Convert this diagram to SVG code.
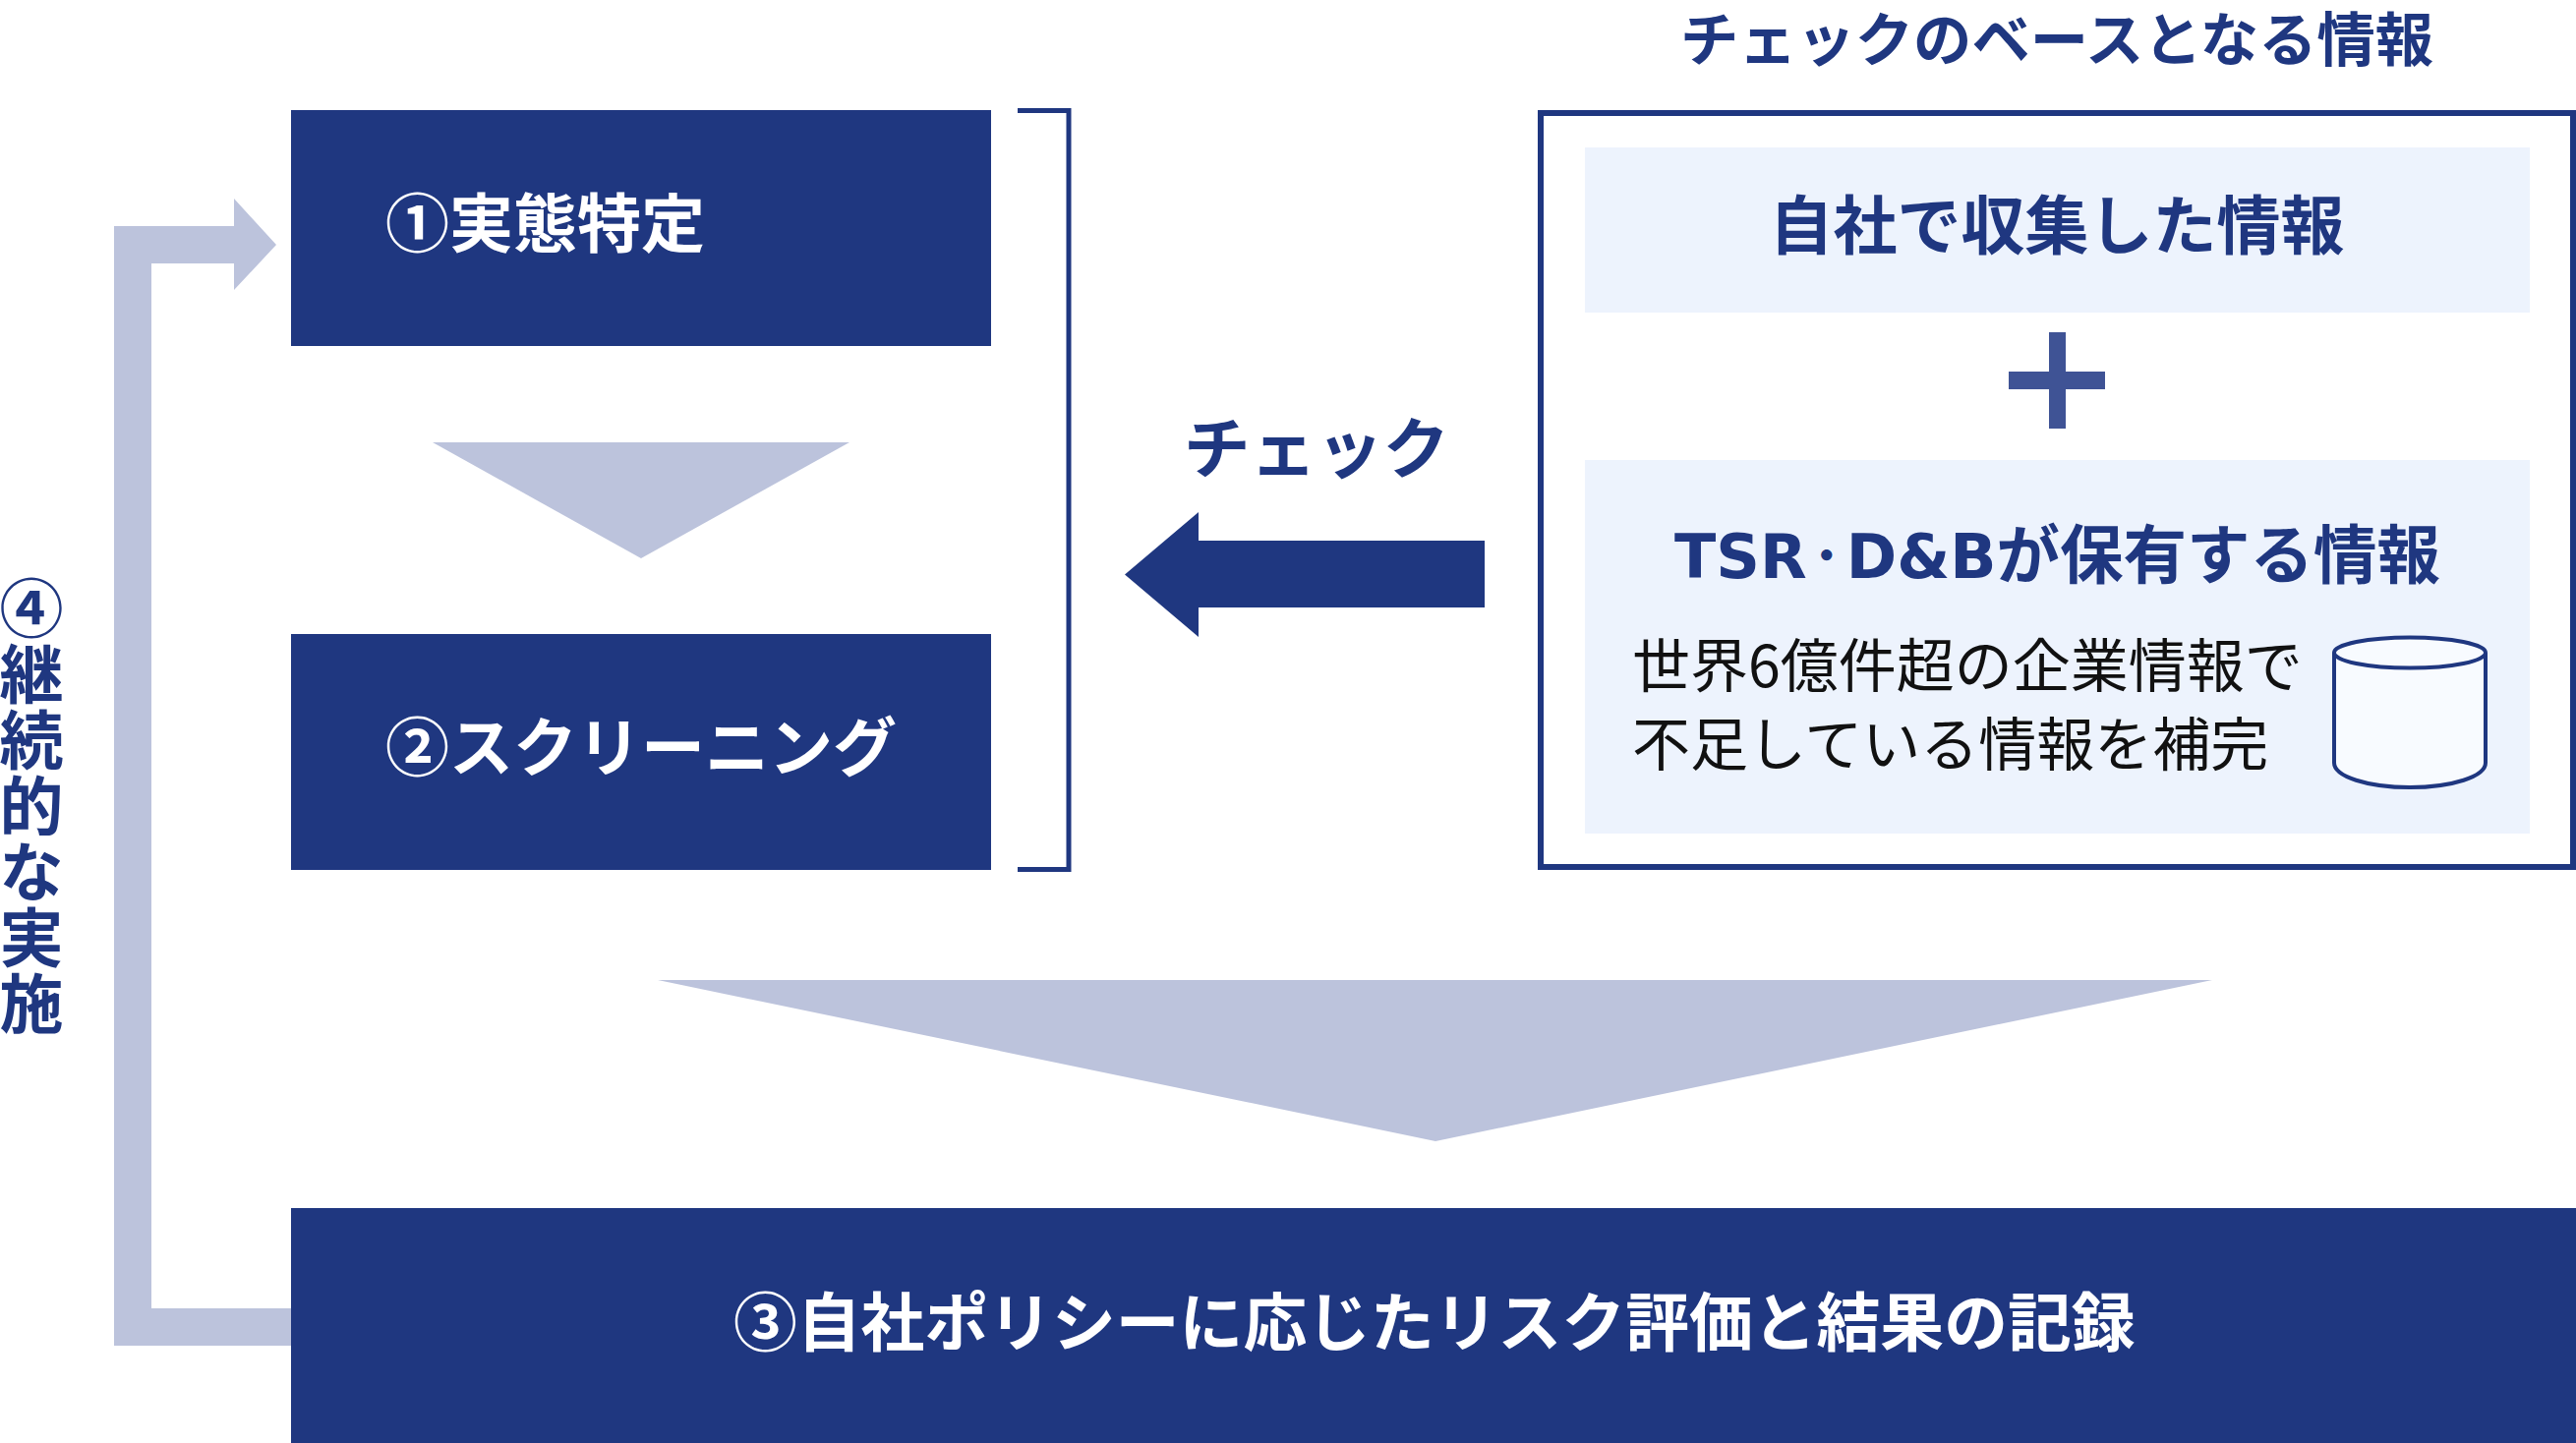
<svg xmlns="http://www.w3.org/2000/svg" width="2620" height="1468" viewBox="0 0 2620 1468">
<style>
text{font-family:"DejaVu Sans","Noto Sans CJK JP",sans-serif;font-weight:700;fill:#1f3780}
.w{fill:#fff}
.c{text-anchor:middle}
.r{font-weight:400;fill:#111;font-size:59px;font-family:"Noto Sans CJK JP",sans-serif}
.j{font-family:"Noto Sans CJK JP",sans-serif}
.box{fill:#1f3780}
.light{fill:#edf3fd}
.pale{fill:#bcc3dc}
</style>
<rect width="2620" height="1468" fill="#fff"/>
<g id="connectors">
<path class="pale" d="M296 1331H154V268H238V295L281 249L238 202V230H116V1369H296Z"/>
<path class="pale" d="M440 450H864L652 568Z"/>
<path class="pale" d="M669 997H2250L1460 1161Z"/>
<path d="M1035 112.500H1087V884.500H1035" fill="none" stroke="#1f3780" stroke-width="5"/>
<path class="box" d="M1510 550H1219V521L1144 584.500L1219 648V618H1510Z"/>
<text class="j c" x="1339" y="481" font-size="67.500">チェック</text>
</g>
<g id="node1"><rect class="box" x="296" y="112" width="712" height="240"/>
<text class="w j" x="392" y="251" font-size="65">①実態特定</text></g>
<g id="node2"><rect class="box" x="296" y="645" width="712" height="240"/>
<text class="w j" x="392" y="784" font-size="65">②スクリーニング</text></g>
<g id="node3"><rect class="box" x="296" y="1229" width="2324" height="239"/>
<text class="w j" x="746" y="1369" font-size="64.800">③自社ポリシーに応じたリスク評価と結果の記録</text></g>
<g id="node4"><text class="j c" x="32 32 32 32 32 32 32" y="643 710 777 844 911 978 1045" font-size="65">④継続的な実施</text></g>
<g id="info">
<text class="j c" x="2092" y="62" font-size="59.300">チェックのベースとなる情報</text>
<rect x="1567" y="115" width="1050" height="767" fill="#fff" stroke="#1f3780" stroke-width="6"/>
<rect class="light" x="1612" y="150" width="961" height="168"/>
<text class="j c" x="2092" y="253" font-size="65">自社で収集した情報</text>
<path fill="#3f5395" d="M2084 338H2101V378H2141V396H2101V436H2084V396H2043V378H2084Z"/>
<rect class="light" x="1612" y="468" width="961" height="380"/>
<text x="1703" y="588" font-size="62">TSR<tspan font-size="40" font-weight="900" dy="-8">・</tspan><tspan dy="8">D&amp;B</tspan><tspan class="j" font-size="64.500">が保有する情報</tspan></text>
<text class="r" x="1660" y="699">世界6億件超の企業情報で</text>
<text class="r" x="1660" y="779">不足している情報を補完</text>
<path d="M2374 664V776C2374 790 2408 801 2451 801S2528 790 2528 776V664" fill="#f8fbff" stroke="#1f3780" stroke-width="4"/>
<ellipse cx="2451" cy="664" rx="77" ry="15.500" fill="#f8fbff" stroke="#1f3780" stroke-width="4"/>
</g>
</svg>
